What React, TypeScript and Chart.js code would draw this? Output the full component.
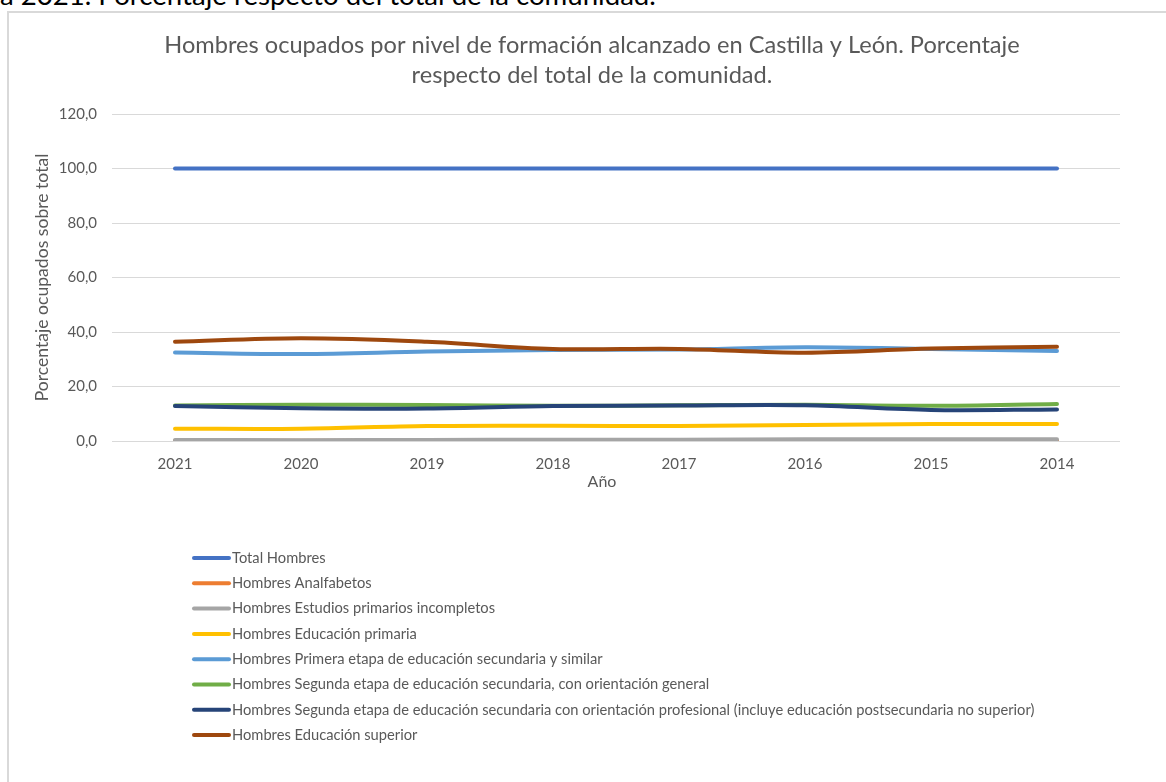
import React, { useEffect, useRef } from "react";
import { Chart, registerables } from "chart.js";

Chart.register(...registerables);

const FONT = "Lato, 'Liberation Sans', sans-serif";

const YEARS = ["2021", "2020", "2019", "2018", "2017", "2016", "2015", "2014"];

const TOTAL = [100, 100, 100, 100, 100, 100, 100, 100];
const ANALFABETOS = [0.1, 0.1, 0.1, 0.2, 0.1, 0.2, 0.1, 0.1];
const PRIMARIOS_INCOMPLETOS = [0.4, 0.3, 0.4, 0.5, 0.5, 0.6, 0.6, 0.6];
const PRIMARIA = [4.5, 4.5, 5.5, 5.6, 5.5, 5.9, 6.2, 6.2];
const PRIMERA_SECUNDARIA = [32.5, 31.9, 32.8, 33.4, 33.6, 34.4, 33.8, 33.0];
const SEGUNDA_GENERAL = [13.0, 13.3, 13.2, 12.9, 13.1, 13.3, 12.9, 13.6];
const SEGUNDA_PROFESIONAL = [12.8, 12.0, 11.9, 12.8, 13.0, 13.1, 11.4, 11.6];
const SUPERIOR = [36.4, 37.7, 36.4, 33.8, 33.8, 32.4, 33.9, 34.6];

const SERIES_LABELS = [
  "Total Hombres",
  "Hombres Analfabetos",
  "Hombres Estudios primarios incompletos",
  "Hombres Educación primaria",
  "Hombres Primera etapa de educación secundaria y similar",
  "Hombres Segunda etapa de educación secundaria, con orientación general",
  "Hombres Segunda etapa de educación secundaria con orientación profesional (incluye educación postsecundaria no superior)",
  "Hombres Educación superior",
];
const SERIES_VALUES = [
  TOTAL,
  ANALFABETOS,
  PRIMARIOS_INCOMPLETOS,
  PRIMARIA,
  PRIMERA_SECUNDARIA,
  SEGUNDA_GENERAL,
  SEGUNDA_PROFESIONAL,
  SUPERIOR,
];
const SERIES_COLORS = [
  "#4472C4",
  "#ED7D31",
  "#A5A5A5",
  "#FFC000",
  "#5B9BD5",
  "#70AD47",
  "#264478",
  "#9E480E",
];

const TITLE_LINES = [
  "Hombres ocupados por nivel de formación alcanzado en Castilla y León. Porcentaje",
  "respecto del total de la comunidad.",
];
const X_TITLE = "Año";
const Y_TITLE = "Porcentaje ocupados sobre total";
const PAGE_TEXT = "a 2021. Porcentaje respecto del total de la comunidad.";

const TEXT_COLOR = "#595959";

const customText = {
  id: "customText",
  afterDraw(chart: any) {
    const ctx = chart.ctx;
    const area = chart.chartArea;
    ctx.save();
    ctx.fillStyle = TEXT_COLOR;
    ctx.textAlign = "center";
    ctx.textBaseline = "middle";
    ctx.font = `23.6px ${FONT}`;
    TITLE_LINES.forEach((t, i) => ctx.fillText(t, 592, 45 + i * 30));

    ctx.font = `16px ${FONT}`;
    ctx.fillText(X_TITLE, 602, area.bottom + 41);

    ctx.textAlign = "left";
    ctx.font = `14.7px ${FONT}`;
    chart.data.datasets.forEach((ds: any, i: number) => {
      const y = 558 + i * 25.3;
      ctx.strokeStyle = ds.borderColor;
      ctx.lineWidth = 4;
      ctx.lineCap = "round";
      ctx.beginPath();
      ctx.moveTo(194, y);
      ctx.lineTo(229, y);
      ctx.stroke();
      ctx.fillStyle = TEXT_COLOR;
      ctx.fillText(ds.label, 232, y);
    });
    ctx.restore();
  },
};

export default function App() {
  const canvasRef = useRef<HTMLCanvasElement | null>(null);

  useEffect(() => {
    if (!canvasRef.current) return;
    const chart = new Chart(canvasRef.current, {
      type: "line",
      data: {
        labels: YEARS,
        datasets: SERIES_LABELS.map((label, i) => ({
          label,
          data: SERIES_VALUES[i],
          borderColor: SERIES_COLORS[i],
          backgroundColor: SERIES_COLORS[i],
          borderWidth: 4,
          pointRadius: 0,
          tension: 0.35,
          borderCapStyle: "round" as const,
          order: SERIES_LABELS.length - i,
          fill: false,
        })),
      },
      options: {
        animation: false,
        responsive: false,
        layout: { padding: { left: 8, right: 46, top: 114, bottom: 311 } },
        plugins: {
          legend: { display: false },
          title: { display: false },
          tooltip: { enabled: false },
        },
        scales: {
          x: {
            offset: true,
            grid: { display: false, drawTicks: false },
            border: { display: false },
            ticks: {
              color: TEXT_COLOR,
              font: { family: FONT, size: 15 },
              padding: 14,
              maxRotation: 0,
            },
            afterFit: (scale: any) => {
              scale.height = 30;
            },
          },
          y: {
            min: 0,
            max: 120,
            ticks: {
              stepSize: 20,
              color: TEXT_COLOR,
              font: { family: FONT, size: 15 },
              padding: 15,
              callback: (v: any) => Number(v).toFixed(1).replace(".", ","),
            },
            grid: { color: "#D9D9D9", lineWidth: 1, drawTicks: false },
            border: { display: false },
            title: {
              display: true,
              text: Y_TITLE,
              color: TEXT_COLOR,
              font: { family: FONT, size: 17.6 },
              padding: { top: 24, bottom: 0 },
            },
            afterFit: (scale: any) => {
              scale.width = 104;
            },
          },
        },
      },
      plugins: [customText],
    });
    return () => chart.destroy();
  }, []);

  return (
    <div
      style={{
        position: "absolute",
        left: 0,
        top: 0,
        width: 1166,
        height: 782,
        overflow: "hidden",
        background: "#fff",
      }}
    >
      <div
        style={{
          position: "absolute",
          left: 0,
          top: -15,
          fontFamily: FONT,
          fontSize: 27.6,
          lineHeight: "20px",
          color: "#000",
          whiteSpace: "nowrap",
        }}
      >
        {PAGE_TEXT}
      </div>
      <div
        style={{
          position: "absolute",
          left: 7,
          top: 11,
          width: 1300,
          height: 900,
          border: "2px solid #D9D9D9",
          boxSizing: "border-box",
        }}
      />
      <canvas
        ref={canvasRef}
        width={1166}
        height={782}
        style={{ position: "absolute", left: 0, top: 0, width: 1166, height: 782 }}
      />
    </div>
  );
}
